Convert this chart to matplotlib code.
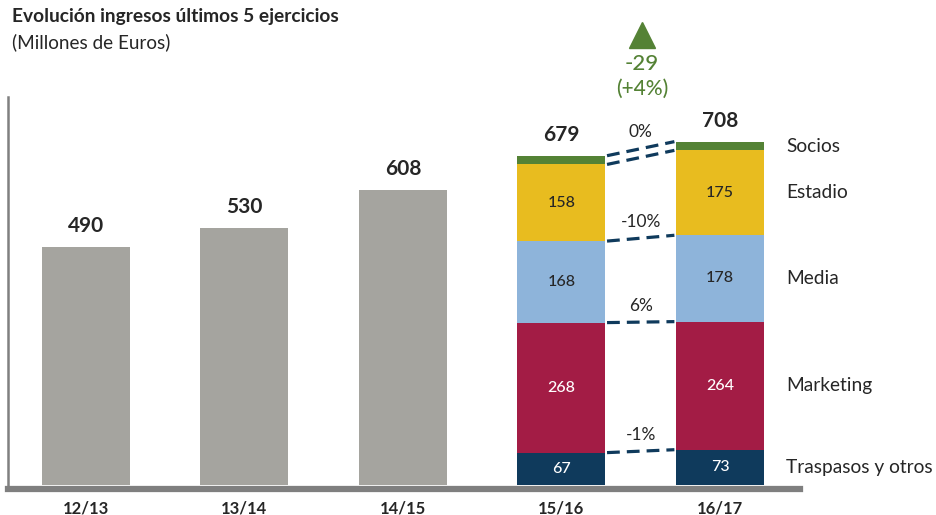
import matplotlib
matplotlib.use("Agg")
import matplotlib.pyplot as plt
import numpy as np

plt.rcParams['font.family'] = ['Lato', 'DejaVu Sans']

# ---- data ----
seasons = ["12/13", "13/14", "14/15", "15/16", "16/17"]
totals = [490, 530, 608, 679, 708]
segments = ["Traspasos y otros", "Marketing", "Media", "Estadio", "Socios"]
seg_1516 = [67, 268, 168, 158, 18]
seg_1617 = [73, 264, 178, 175, 18]
seg_labels_show = [True, True, True, True, False]
pct_changes = ["-1%", "6%", "-10%", "0%"]   # shown above lines for boundaries 1..4
growth_abs = "-29"
growth_pct = "(+4%)"

seg_colors = ["#0F3A5C", "#A31C45", "#8EB4DA", "#E8BC1F", "#548235"]
seg_text_colors = ["white", "white", "#262626", "#262626", "white"]
gray = "#A5A49F"
green = "#548235"
navy = "#0F3A5C"

W, H = 937, 515
fig = plt.figure(figsize=(W / 100, H / 100), dpi=100)
left_px, right_px = 8, 800
top_px, bottom_px = 97, 489
ax = fig.add_axes([left_px / W, (H - bottom_px) / H, (right_px - left_px) / W, (bottom_px - top_px) / H])

x = np.arange(len(seasons))
bw = 0.555
ax.set_xlim(-0.492, 4.505)
ax.set_ylim(-8, 800)

# simple gray bars
for i in range(3):
    ax.bar(x[i], totals[i], width=bw, color=gray, zorder=2)
    ax.annotate(str(totals[i]), (x[i], totals[i]), xytext=(0, 8), textcoords="offset points",
                ha="center", va="bottom", fontsize=15, fontweight="bold", color="#262626")

# stacked bars
for xi, vals, tot in [(x[3], seg_1516, totals[3]), (x[4], seg_1617, totals[4])]:
    bottom = 0
    for v, c, tc, show in zip(vals, seg_colors, seg_text_colors, seg_labels_show):
        ax.bar(xi, v, bottom=bottom, width=bw, color=c, zorder=2)
        if show:
            ax.text(xi, bottom + v / 2, str(v), ha="center", va="center", fontsize=11.5,
                    fontweight="medium", color=tc, zorder=3)
        bottom += v
    ax.annotate(str(tot), (xi, tot), xytext=(0, 8), textcoords="offset points",
                ha="center", va="bottom", fontsize=15, fontweight="bold", color="#262626")

# dashed connector lines
cum_a = np.cumsum(seg_1516)
cum_b = np.cumsum(seg_1617)
xa = x[3] + bw / 2 + 0.01
xb = x[4] - bw / 2 - 0.01
for k in range(len(segments)):
    ax.plot([xa, xb], [cum_a[k], cum_b[k]], color=navy, lw=2.3, ls=(0, (4, 2.2)), zorder=1,
            solid_capstyle="butt", dash_capstyle="butt")
for k, lab in enumerate(pct_changes):
    idx = k if k < 3 else 4
    ymid = (cum_a[idx] + cum_b[idx]) / 2
    ax.text((xa + xb) / 2, ymid + 34, lab, ha="center", va="center", fontsize=12.5, color="#262626")

# right side segment labels
bottom = 0
for name, v in zip(segments, seg_1617):
    ax.text(4.416, bottom + v / 2, name, ha="left", va="center", fontsize=13.8, color="#262626", clip_on=False)
    bottom += v

# growth indicator
ax.plot([3.508], [928], marker="^", markersize=19, color=green, clip_on=False, zorder=5)
ax.text(3.508, 868, growth_abs, ha="center", va="center", fontsize=16, color=green,
        fontweight="medium", clip_on=False)
ax.text(3.508, 816, growth_pct, ha="center", va="center", fontsize=15, color=green,
        fontweight="medium", clip_on=False)

# axes styling
for s in ["top", "right"]:
    ax.spines[s].set_visible(False)
ax.spines["bottom"].set_color("#7F7F7F")
ax.spines["bottom"].set_linewidth(4.5)
ax.spines["left"].set_color("#808080")
ax.spines["left"].set_linewidth(1.8)
ax.set_yticks([])
ax.set_xticks(x)
ax.set_xticklabels(seasons, fontsize=12, fontweight="bold", color="#262626")
ax.tick_params(axis="x", length=0, pad=8)

# titles
fig.text(12 / W, 1 - 22 / H, "Evolución ingresos últimos 5 ejercicios", fontsize=13.8, fontweight="bold",
         color="#262626", ha="left", va="baseline")
fig.text(12 / W, 1 - 48 / H, "(Millones de Euros)", fontsize=13.6, color="#262626", ha="left", va="baseline")

fig.savefig("out.png", dpi=100)
